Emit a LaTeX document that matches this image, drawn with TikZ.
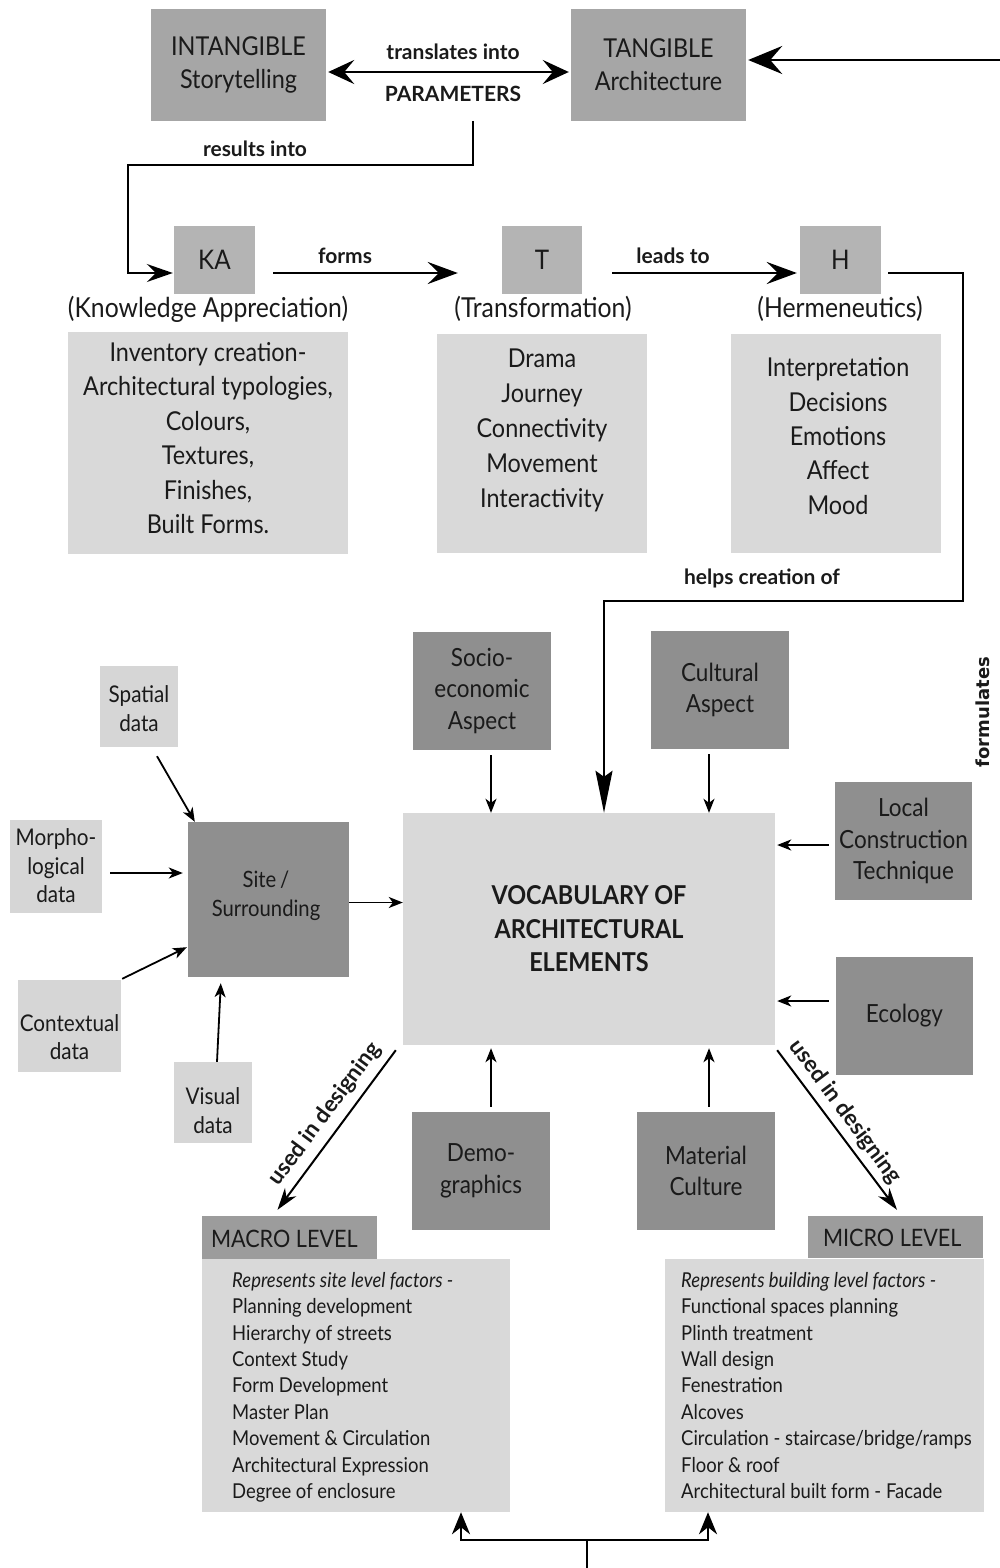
\documentclass[tikz,border=0pt]{standalone}
\usepackage{fontspec}
\setmainfont{Lato}[FakeStretch=0.9]
\newfontfamily\labelfont{Lato}
\newfontfamily\sidefont{DejaVu Sans}
\usetikzlibrary{arrows.meta,calc}

\definecolor{gtop}{HTML}{A6A6A6}
\definecolor{gmid}{HTML}{B4B4B4}
\definecolor{glight}{HTML}{D9D9D9}
\definecolor{gdark}{HTML}{8F8F8F}
\definecolor{ghead}{HTML}{9C9C9C}
\definecolor{gdata}{HTML}{D6D6D6}
\definecolor{ink}{HTML}{1A1A1A}

\newcommand{\fsz}[2]{\fontsize{#1}{#2}\selectfont}

\begin{document}
\begin{tikzpicture}[x=1pt,y=-1pt,
  box/.style={inner sep=0pt, align=center, text=ink},
  txt/.style={inner sep=0pt, align=center, text=ink},
  topbox/.style={box, fill=gtop, minimum width=175, minimum height=112, font=\fsz{26}{33}},
  letterbox/.style={box, fill=gmid, minimum width=81, minimum height=68, font=\fsz{27}{33}},
  listbox/.style={box, fill=glight},
  listtext/.style={txt, font=\fsz{26}{34.5}},
  darkbox/.style={box, fill=gdark, minimum width=138, minimum height=118, font=\fsz{25}{31.5}},
  databox/.style={box, fill=gdata},
  datatext/.style={txt, font=\fsz{23}{28.5}},
  headbox/.style={box, fill=ghead, minimum width=175, minimum height=43},
  headtext/.style={inner sep=0pt, anchor=west, text=ink, font=\fsz{24}{28}},
  lbl/.style={inner sep=0pt, text=ink, font=\labelfont\fsz{21}{25}\bfseries},
  paren/.style={inner sep=0pt, text=ink, font=\fsz{27.5}{32}},
  bodytext/.style={inner sep=0pt, align=left, anchor=north west, text=ink, font=\fsz{20.5}{26.4}},
  bigline/.style={line width=2.8pt, draw=black},
  bigtip/.style={-{Stealth[length=30pt,width=22pt,inset=11pt]}},
  midline/.style={line width=2pt, draw=black},
  thinarrow/.style={line width=1.8pt, draw=black, -{Stealth[length=14pt,width=11pt,inset=4pt]}},
]
\useasboundingbox (0,0) rectangle (1000,1568);

% ---------- top row ----------
\node[topbox] (intang) at (238.5,65) {INTANGIBLE\\Storytelling};
\node[topbox] (tang) at (658.5,65) {TANGIBLE\\Architecture};
\node[lbl] (trans) at (453,52) {translates into};
\node[lbl] (params) at (453,94) {PARAMETERS};

\draw[bigline, {Stealth[length=26pt,width=24pt,inset=10pt]}-{Stealth[length=26pt,width=24pt,inset=10pt]}]
  ([xshift=2pt,yshift=-7pt]intang.east) -- ([xshift=-2pt,yshift=-7pt]tang.west);

\coordinate (rin) at (1000,60);
\draw[bigline, -{Stealth[length=34pt,width=28pt,inset=12pt]}] (rin) -- ([xshift=2pt,yshift=5pt]tang.east);

% ---------- KA / T / H ----------
\node[letterbox] (ka) at (214.5,260) {KA};
\node[letterbox, minimum width=80] (t) at (542,260) {T};
\node[letterbox] (h) at (840.5,260) {H};

\node[paren] (kaname) at (208,309) {(Knowledge Appreciation)};
\node[paren] (tname) at (543,309) {(Transformation)};
\node[paren] (hname) at (840,309) {(Hermeneutics)};

\node[listbox, minimum width=280, minimum height=222] (kal) at (208,443) {};
\node[listtext] (kalt) at (208,438)
  {Inventory creation-\\Architectural typologies,\\Colours,\\Textures,\\Finishes,\\Built Forms.};
\node[listbox, minimum width=210, minimum height=219] (tl) at (542,443.5) {};
\node[listtext, font=\fsz{26}{35}] (tlt) at (542,430)
  {Drama\\Journey\\Connectivity\\Movement\\Interactivity};
\node[listbox, minimum width=210, minimum height=219] (hl) at (836,443.5) {};
\node[listtext, font=\fsz{26}{34.3}] (hlt) at (838,436)
  {Interpretation\\Decisions\\Emotions\\Affect\\Mood};

\coordinate (ri) at (473,121);
\draw[midline, -{Stealth[length=26pt,width=18pt,inset=9pt]}]
  (ri) -- (473,165) -- (128,165) |- ([xshift=-1pt,yshift=-13pt]ka.west);
\node[lbl] (resl) at (255,149) {results into};

\draw[bigline, bigtip] ([xshift=18pt,yshift=-13pt]ka.east) -- ([xshift=-44pt,yshift=-13pt]t.west);
\node[lbl] (forms) at (345,256) {forms};
\draw[bigline, bigtip] ([xshift=30pt,yshift=-13pt]t.east) -- ([xshift=-3pt,yshift=-13pt]h.west);
\node[lbl] (leads) at (673,256) {leads to};

% ---------- vocabulary ----------
\node[box, fill=glight, minimum width=372, minimum height=232, font=\fsz{26}{33.5}\bfseries] (vocab) at (589,929)
  {VOCABULARY OF\\ARCHITECTURAL\\ELEMENTS};

\draw[midline, -{Stealth[length=42pt,width=17pt,inset=6pt]}]
  ([xshift=7pt,yshift=-13pt]h.east) -- (963,273) -- (963,601) -| ([xshift=15pt]vocab.north);
\node[lbl] (helps) at (762,578) {helps creation of};
\node[inner sep=0pt, rotate=90, text=ink, font=\sidefont\fsz{18}{20}\bfseries] (form) at (983,712) {formulates};

% ---------- aspects ----------
\node[darkbox] (socio) at (482,691) {Socio-\\economic\\Aspect};
\node[darkbox] (cult) at (720,690) {Cultural\\Aspect};
\node[darkbox, minimum width=137] (local) at (903.5,841) {Local\\Construction\\Technique};
\node[darkbox, minimum width=137] (eco) at (904.5,1016) {Ecology};
\node[darkbox] (demo) at (481,1171) {Demo-\\graphics};
\node[darkbox] (mat) at (706,1171) {Material\\Culture};

\draw[thinarrow] ([xshift=9pt,yshift=-5pt]socio.south) -- ([xshift=9pt]socio.south |- vocab.north);
\draw[thinarrow] ([xshift=-11pt,yshift=-5pt]cult.south) -- ([xshift=-11pt]cult.south |- vocab.north);
\coordinate (lc) at ([xshift=-6pt,yshift=-4pt]local.west);
\draw[thinarrow] (lc) -- ([xshift=2pt]lc -| vocab.east);
\coordinate (ec) at ([xshift=-7pt,yshift=15pt]eco.west);
\draw[thinarrow] (ec) -- ([xshift=2pt]ec -| vocab.east);
\draw[thinarrow] ([xshift=10pt,yshift=5pt]demo.north) -- ([xshift=10pt,yshift=-3pt]demo.north |- vocab.south);
\draw[thinarrow] ([xshift=3pt,yshift=5pt]mat.north) -- ([xshift=3pt,yshift=-3pt]mat.north |- vocab.south);

% ---------- site and data ----------
\node[box, fill=gdark, minimum width=161, minimum height=155] (site) at (268.5,899.5) {};
\node[txt, font=\fsz{22.5}{29}] (sitet) at (266,896) {Site\,/\\Surrounding};
\node[databox, minimum width=78, minimum height=81] (spatial) at (139,706.5) {};
\node[datatext] (spatialt) at (139,708.5) {Spatial\\data};
\node[databox, minimum width=92, minimum height=93] (morpho) at (56,866.5) {};
\node[datatext] (morphot) at (56,866) {Morpho-\\logical\\data};
\node[databox, minimum width=103, minimum height=92] (context) at (69.5,1026) {};
\node[datatext] (contextt) at (69.5,1037) {Contextual\\data};
\node[databox, minimum width=78, minimum height=81] (visual) at (213,1102.5) {};
\node[datatext] (visualt) at (213,1110.5) {Visual\\data};

\coordinate (sc) at ([yshift=-3pt]site.east);
\draw[thinarrow] (sc) -- (sc -| vocab.west);
\draw[thinarrow] ([xshift=18pt,yshift=-9pt]spatial.south) -- ([xshift=7pt]site.north west);
\coordinate (mc) at ([xshift=8pt,yshift=-6.5pt]morpho.east);
\draw[thinarrow] (mc) -- ([xshift=-5pt]mc -| site.west);
\draw[thinarrow] ([xshift=1pt,yshift=1pt]context.north east) -- ([xshift=-1pt,yshift=30pt]site.south west);
\draw[thinarrow] ([xshift=4pt]visual.north) -- ([xshift=33pt,yshift=-6pt]site.south west);

% ---------- macro / micro ----------
\node[headbox] (macroh) at (289.5,1237.5) {};
\node[headtext] (macrol) at ([xshift=9pt,yshift=-1pt]macroh.west) {MACRO LEVEL};
\node[box, fill=glight, minimum width=308, minimum height=253] (macrob) at (356,1385.5) {};
\node[bodytext] (macrot) at (232,1272)
  {\textit{Represents site level factors -}\\Planning development\\Hierarchy of streets\\Context Study\\Form Development\\Master Plan\\Movement \& Circulation\\Architectural Expression\\Degree of enclosure};
\node[headbox, minimum height=42] (microh) at (895.5,1237) {};
\node[headtext] (microl) at ([xshift=15pt,yshift=-1pt]microh.west) {MICRO LEVEL};
\node[box, fill=glight, minimum width=319, minimum height=253] (microb) at (824.5,1385.5) {};
\node[bodytext] (microt) at (681,1272)
  {\textit{Represents building level factors -}\\Functional spaces planning\\Plinth treatment\\Wall design\\Fenestration\\Alcoves\\Circulation - staircase/bridge/ramps\\Floor \& roof\\Architectural built form - Facade};

\draw[midline, -{Stealth[length=22pt,width=14pt,inset=7pt]}]
  ([xshift=-7pt,yshift=-5pt]vocab.south west) -- ([xshift=-12pt,yshift=6pt]macroh.north);
\node[lbl, font=\labelfont\fsz{22.5}{25}\bfseries, rotate=53.4] (usedl) at (325,1114) {used in designing};
\draw[midline, -{Stealth[length=22pt,width=14pt,inset=7pt]}]
  ([xshift=2pt,yshift=-5pt]vocab.south east) -- ([xshift=1.5pt,yshift=6pt]microh.north);
\node[lbl, font=\labelfont\fsz{22.5}{25}\bfseries, rotate=-53.4] (usedr) at (845,1112) {used in designing};

\coordinate (bin) at (587,1568);
\coordinate (jn) at (587,1540);
\draw[bigline] (bin) -- (jn);
\draw[bigline, -{Stealth[length=22pt,width=18pt,inset=7pt]}] (jn) -| ([xshift=105pt]macrob.south);
\draw[bigline, -{Stealth[length=22pt,width=18pt,inset=7pt]}] (jn) -| ([xshift=-116.5pt]microb.south);
\end{tikzpicture}
\end{document}
